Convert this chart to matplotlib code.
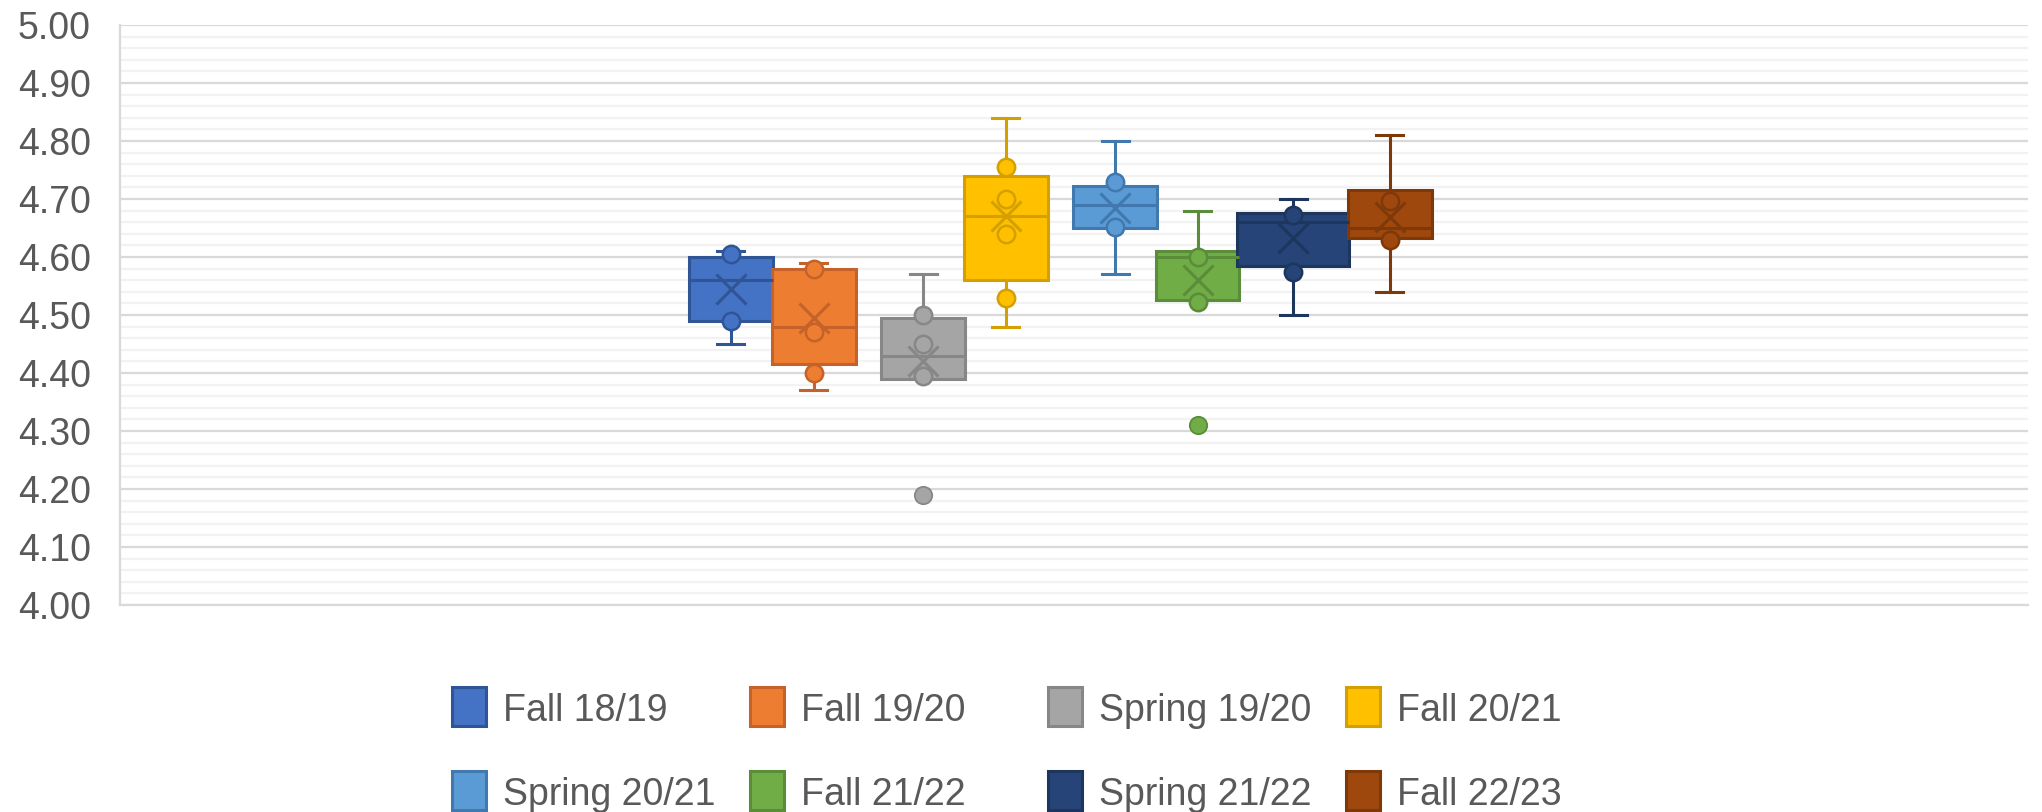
import matplotlib
matplotlib.use('Agg')
import matplotlib.pyplot as plt
from matplotlib.patches import Rectangle
from matplotlib.ticker import MultipleLocator

plt.rcParams['font.family'] = ['Liberation Sans', 'DejaVu Sans']

# 학기별 박스플롯 데이터
terms = ['Fall 18/19', 'Fall 19/20', 'Spring 19/20', 'Fall 20/21',
         'Spring 20/21', 'Fall 21/22', 'Spring 21/22', 'Fall 22/23']
whisker_low = [4.45, 4.37, 4.39, 4.48, 4.57, 4.525, 4.50, 4.54]
q1 = [4.49, 4.415, 4.39, 4.56, 4.65, 4.525, 4.585, 4.632]
median = [4.56, 4.48, 4.43, 4.67, 4.69, 4.60, 4.66, 4.65]
q3 = [4.60, 4.58, 4.495, 4.74, 4.723, 4.61, 4.675, 4.716]
whisker_high = [4.61, 4.59, 4.57, 4.84, 4.80, 4.68, 4.70, 4.81]
mean = [4.545, 4.495, 4.42, 4.67, 4.685, 4.56, 4.632, 4.668]
inner_points = [
    [4.605, 4.49],
    [4.58, 4.47, 4.40],
    [4.50, 4.45, 4.395],
    [4.755, 4.70, 4.64, 4.53],
    [4.73, 4.651],
    [4.60, 4.522],
    [4.672, 4.574],
    [4.697, 4.63],
]
outliers = [[], [], [4.19], [], [], [4.31], [], []]

face_colors = ['#4472C4', '#ED7D31', '#A5A5A5', '#FFC000',
               '#5B9BD5', '#70AD47', '#264478', '#9E480E']
edge_colors = ['#2F5597', '#C4622A', '#878787', '#D4A000',
               '#4178AD', '#5A8C39', '#1D365E', '#7E390B']

# 박스 위치/폭 (축 비율 단위)
positions = [0.3201, 0.3636, 0.4209, 0.4642, 0.5215, 0.5647, 0.6149, 0.6654]
box_widths = [0.044, 0.044, 0.044, 0.044, 0.044, 0.044, 0.0587, 0.044]
cap_width = 0.0142

W, H = 2042, 812
fig = plt.figure(figsize=(W / 100 + 0.001, H / 100 + 0.001), dpi=100)
ax = fig.add_axes([120 / W, 1 - 605 / H, (2028 - 120) / W, 580 / H])

lw = 2.2
for i in range(len(terms)):
    stat = dict(whislo=whisker_low[i], q1=q1[i], med=median[i], q3=q3[i],
                whishi=whisker_high[i], mean=mean[i], fliers=outliers[i],
                label=terms[i])
    fc, ec = face_colors[i], edge_colors[i]
    ax.bxp([stat], positions=[positions[i]], widths=[box_widths[i]],
           capwidths=[cap_width], patch_artist=True, showmeans=True,
           showfliers=True, manage_ticks=False,
           boxprops=dict(facecolor=fc, edgecolor=ec, linewidth=lw),
           whiskerprops=dict(color=ec, linewidth=lw),
           capprops=dict(color=ec, linewidth=lw),
           medianprops=dict(color=ec, linewidth=lw),
           meanprops=dict(marker='x', markeredgecolor=ec, markersize=21,
                          markeredgewidth=2.2),
           flierprops=dict(marker='o', markerfacecolor=fc, markeredgecolor=ec,
                           markersize=12.5, markeredgewidth=1.3))
    pts = inner_points[i]
    ax.plot([positions[i]] * len(pts), pts, 'o', mfc=fc, mec=ec, ms=12.5,
            mew=1.8, zorder=3)

ax.set_xlim(0, 1)
ax.set_ylim(4.0, 5.0)
ax.yaxis.set_major_locator(MultipleLocator(0.1))
ax.yaxis.set_minor_locator(MultipleLocator(0.02))
ax.yaxis.set_major_formatter(plt.FuncFormatter(lambda v, p: f'{v:.2f}'))
ax.grid(which='major', axis='y', color='#D9D9D9', linewidth=1.6, zorder=0)
ax.grid(which='minor', axis='y', color='#F2F2F2', linewidth=1.6, zorder=0)
ax.set_axisbelow(True)
ax.set_xticks([])
ax.tick_params(axis='y', which='both', length=0, pad=21,
               labelsize=27, labelcolor='#595959')
for s in ['top', 'right']:
    ax.spines[s].set_visible(False)
ax.spines['left'].set_color('#D9D9D9')
ax.spines['left'].set_linewidth(1.6)
ax.spines['bottom'].set_color('#D9D9D9')
ax.spines['bottom'].set_linewidth(1.6)

# 범례 (엑셀처럼 같은 간격의 4열 배치)
for i, name in enumerate(terms):
    col, row = i % 4, i // 4
    x0 = 452 + col * 298
    y0 = 687 + row * 84
    fig.add_artist(Rectangle((x0 / W, 1 - (y0 + 39) / H), 34 / W, 39 / H,
                             transform=fig.transFigure,
                             facecolor=face_colors[i],
                             edgecolor=edge_colors[i], linewidth=lw))
    fig.text((x0 + 51) / W, 1 - (y0 + 34) / H, name, fontsize=27,
             color='#595959', ha='left', va='baseline')

fig.savefig('out.png', dpi=100)
